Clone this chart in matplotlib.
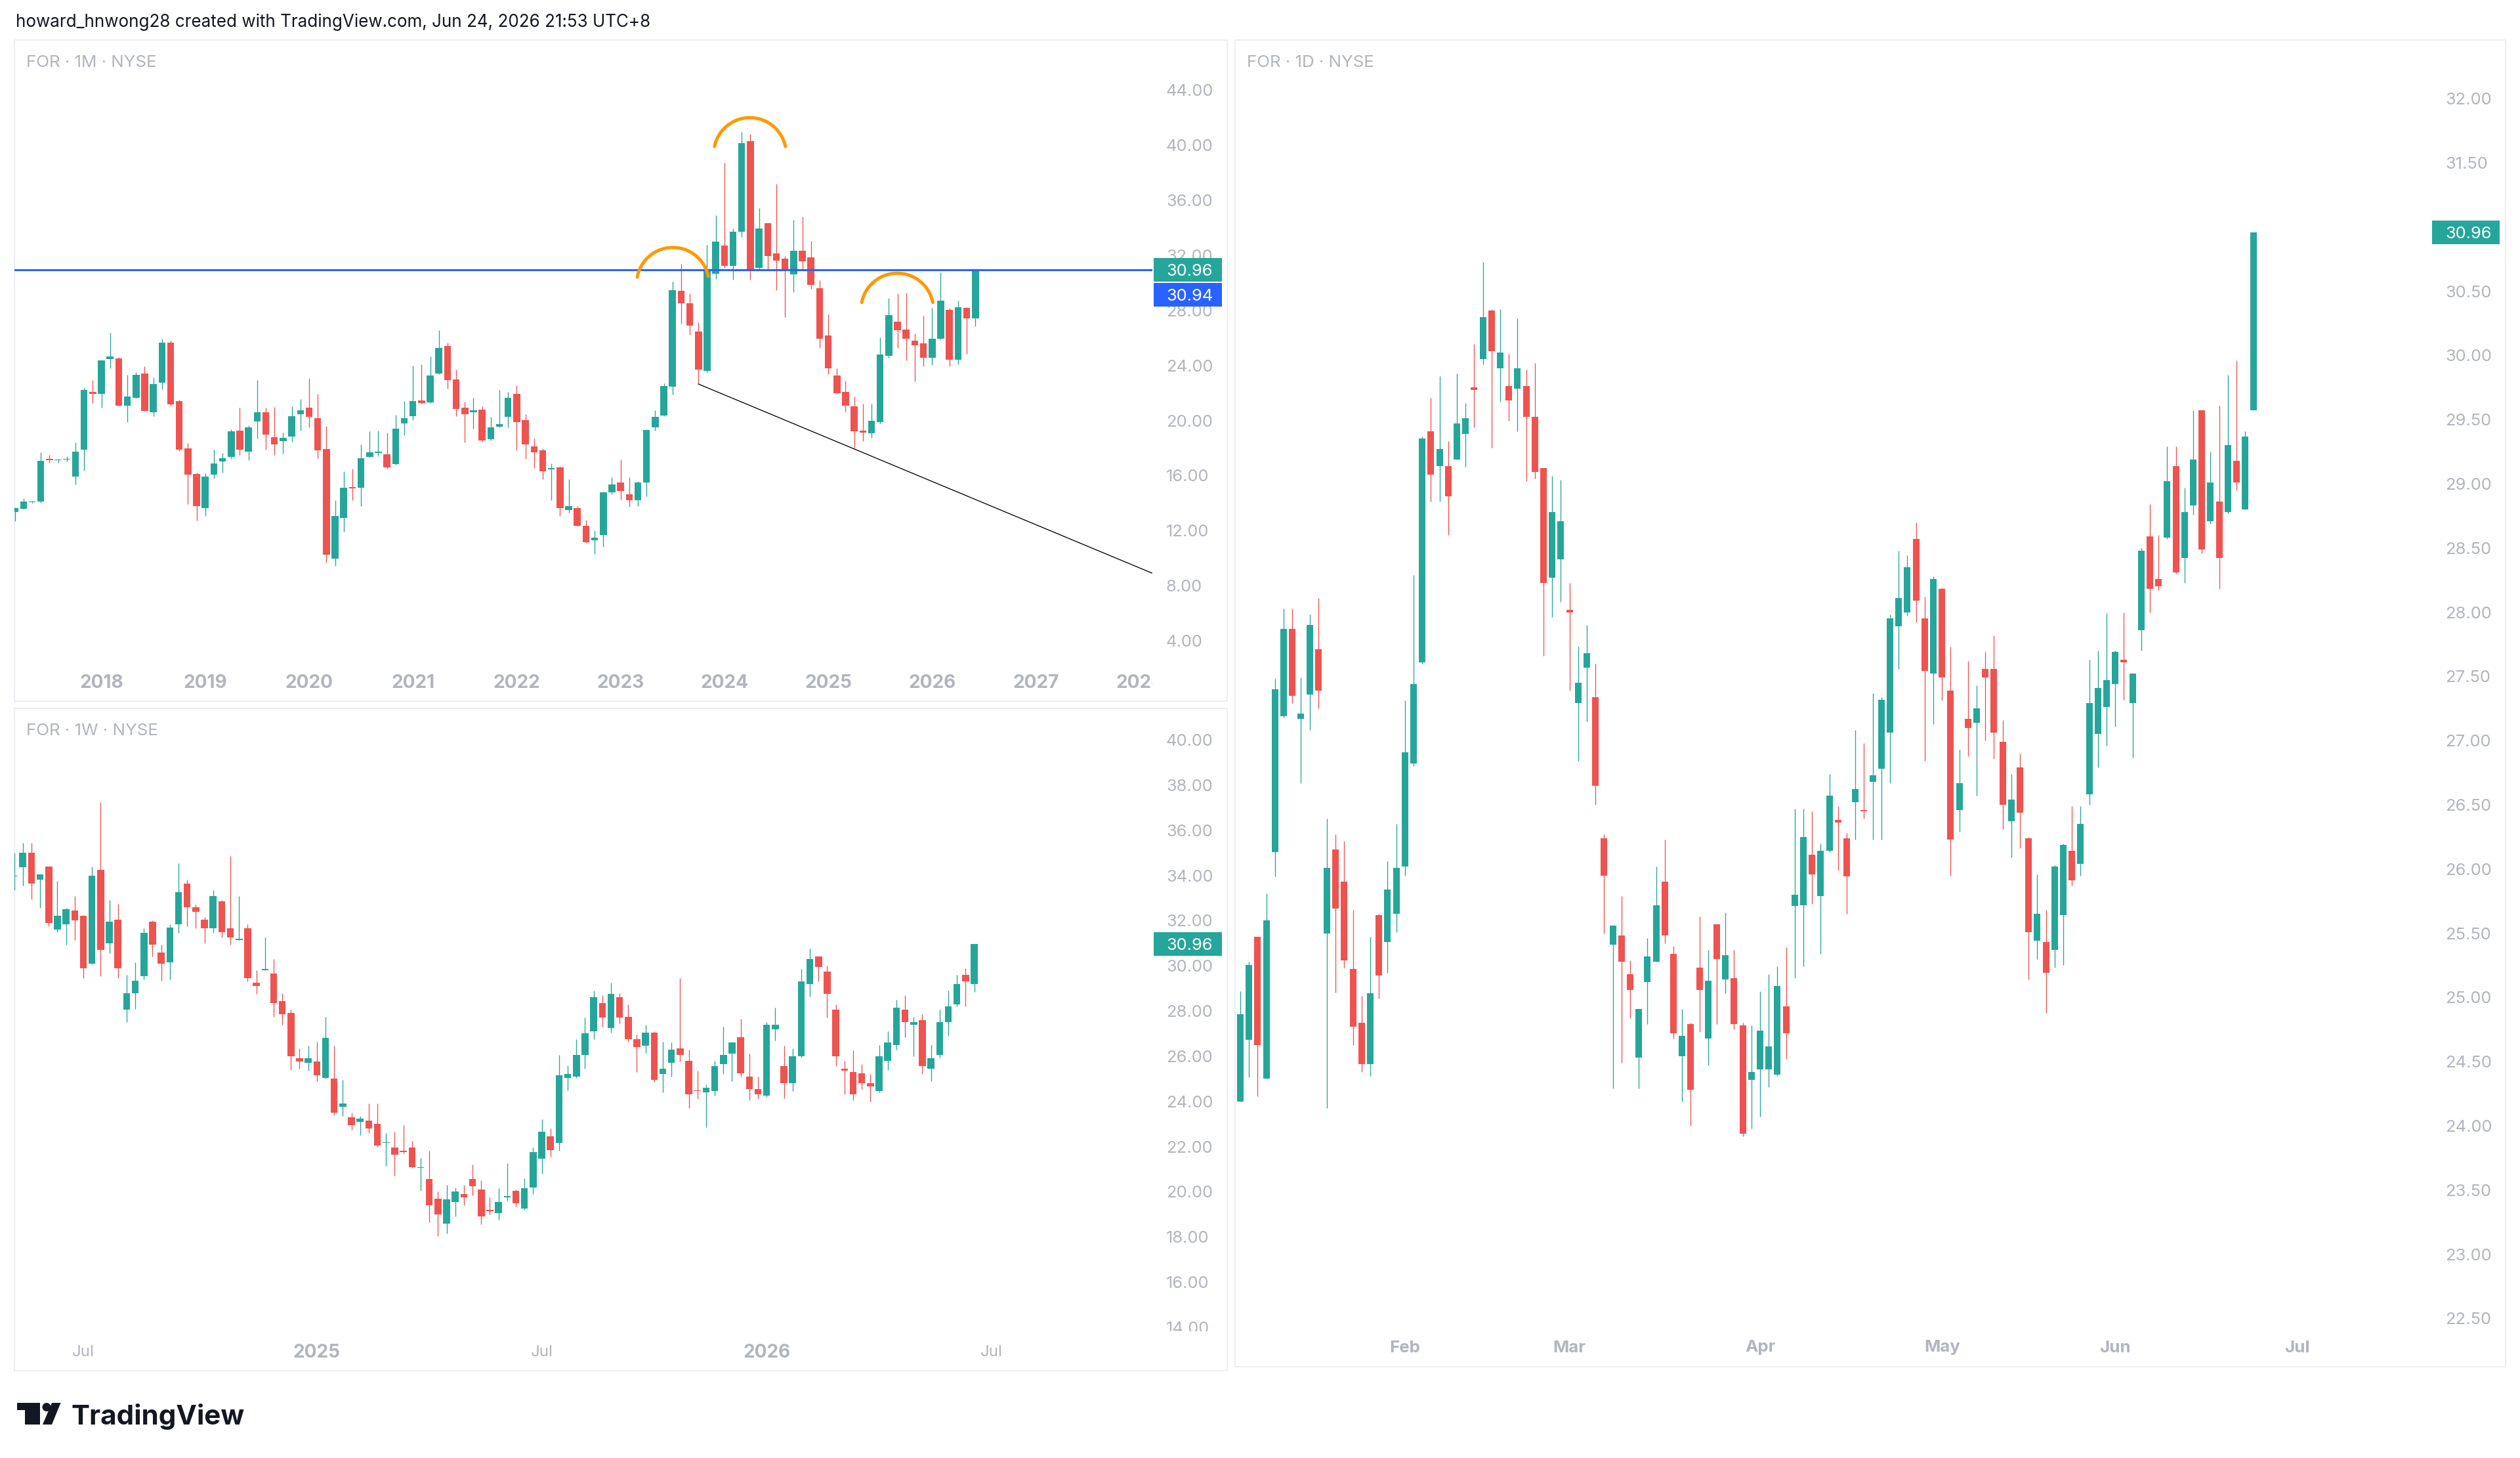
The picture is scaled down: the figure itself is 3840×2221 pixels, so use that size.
import numpy as np
import pandas as pd
import matplotlib
matplotlib.use("Agg")
import matplotlib.pyplot as plt
from matplotlib.patches import Rectangle, Polygon, Circle

# ---------------- DATA ----------------
HEADER = "howard_hnwong28 created with TradingView.com, Jun 24, 2026 21:53 UTC+8"
TITLES = ["FOR \u00b7 1M \u00b7 NYSE", "FOR \u00b7 1W \u00b7 NYSE", "FOR \u00b7 1D \u00b7 NYSE"]
LAST_PRICE = 30.96
HLINE_PRICE = 30.94

# Monthly bars, Mar 2017 .. Jun 2026
m_first = "2017-03"
m_open = [13.35, 13.6, 14.05, 14.1, 17.2, 17.1, 17.15, 15.95, 17.9, 22.1,
          21.95, 24.45, 24.5, 21.1, 21.65, 23.4, 20.6, 22.75, 25.65, 21.4, 18.0, 16.1,
          13.65, 16.05, 17.0, 17.35, 19.25, 17.75, 19.95, 20.6, 18.8, 18.5, 18.85, 20.45,
          20.95, 20.15, 17.95, 9.95, 12.9, 15.15, 15.1, 17.35, 17.65, 17.55, 16.85, 19.8,
          20.3, 21.45, 21.3, 23.4, 25.4, 23.0, 20.95, 20.6, 20.8, 18.65, 19.55, 20.25,
          21.95, 20.05, 18.1, 17.85, 16.45, 16.6, 13.5, 13.65, 12.35, 11.3, 11.7, 14.8,
          15.5, 14.65, 14.2, 15.5, 19.5, 20.35, 22.45, 29.4, 28.5, 26.45, 23.6, 30.65,
          32.7, 31.25, 33.7, 40.3, 31.1, 34.35, 32.15, 31.75, 30.6, 32.35, 31.85, 29.6,
          26.2, 23.25, 22.1, 21.05, 19.25, 19.05, 19.9, 24.7, 27.2, 26.6, 25.8, 25.6,
          24.55, 25.95, 28.05, 24.4, 28.2, 27.4]
m_high = [13.7, 14.35, 14.15, 17.7, 17.5, 17.2, 17.4, 18.4, 22.35, 22.95,
          24.35, 26.35, 24.6, 23.3, 23.5, 23.95, 23.15, 25.95, 25.8, 21.5, 18.35, 16.2,
          16.15, 17.9, 17.65, 19.35, 20.95, 19.65, 22.95, 20.95, 21.0, 19.1, 21.05, 21.55,
          23.1, 21.95, 19.6, 14.2, 16.3, 16.5, 18.25, 19.2, 19.25, 19.1, 20.4, 21.4,
          24.0, 24.1, 24.65, 26.55, 25.65, 23.7, 21.35, 21.65, 21.05, 20.25, 22.2, 22.1,
          22.55, 20.45, 18.7, 18.0, 16.9, 16.7, 15.75, 13.8, 12.8, 12.0, 14.85, 15.9,
          17.15, 15.9, 15.6, 19.35, 20.75, 22.7, 30.1, 31.4, 29.25, 27.15, 32.75, 34.9,
          38.7, 33.95, 40.95, 40.8, 35.45, 34.4, 37.2, 31.95, 34.55, 34.8, 33.05, 30.2,
          27.7, 23.8, 22.9, 21.75, 21.2, 21.2, 26.05, 28.9, 29.25, 29.3, 26.3, 27.6,
          28.2, 30.75, 28.2, 28.7, 28.25, 30.96]
m_low = [12.7, 13.55, 14.0, 14.0, 16.95, 16.95, 17.0, 15.35, 16.35, 21.25,
         20.95, 23.8, 21.1, 19.9, 21.6, 20.7, 20.3, 22.25, 21.1, 17.8, 13.9, 12.75,
         13.05, 15.8, 16.2, 17.2, 17.5, 17.1, 18.7, 17.9, 17.5, 17.6, 18.45, 19.25,
         19.5, 17.25, 9.7, 9.45, 11.9, 14.2, 13.8, 17.3, 17.4, 16.5, 16.8, 18.95,
         20.05, 21.2, 21.25, 23.35, 22.3, 20.3, 18.4, 19.4, 18.45, 18.55, 19.5, 19.5,
         17.85, 17.2, 16.55, 15.75, 14.2, 13.05, 13.3, 12.3, 11.1, 10.3, 10.8, 14.65,
         14.25, 13.75, 13.8, 14.5, 19.25, 20.3, 21.9, 27.05, 26.25, 22.65, 23.5, 30.3,
         31.1, 30.25, 33.35, 30.25, 30.95, 30.95, 29.45, 27.5, 29.35, 30.9, 29.55, 25.25,
         23.35, 21.95, 20.65, 18.0, 18.5, 18.75, 19.8, 24.55, 25.25, 24.35, 22.85, 23.95,
         24.05, 25.9, 23.95, 24.1, 24.85, 26.85]
m_close = [13.65, 14.1, 14.1, 17.05, 17.1, 17.15, 17.2, 17.75, 22.2, 21.95,
           24.35, 24.65, 21.1, 21.75, 23.3, 20.7, 22.65, 25.65, 21.15, 17.9, 16.05, 13.8,
           15.95, 16.9, 17.25, 19.2, 17.9, 19.5, 20.6, 19.0, 18.25, 18.75, 20.3, 20.75,
           20.25, 17.85, 10.25, 13.05, 15.1, 15.05, 17.25, 17.7, 17.7, 16.6, 19.4, 20.15,
           21.4, 21.25, 23.25, 25.25, 22.95, 20.85, 20.45, 20.75, 18.55, 19.5, 19.75, 21.65,
           19.9, 18.25, 17.7, 16.3, 16.5, 13.65, 13.8, 12.35, 11.15, 11.5, 14.8, 15.35,
           14.9, 14.2, 15.5, 19.3, 20.25, 22.5, 29.45, 28.5, 26.9, 23.7, 31.0, 33.0,
           31.25, 33.7, 40.15, 30.95, 33.95, 31.95, 31.6, 30.85, 32.35, 31.55, 29.85, 25.95,
           23.8, 22.0, 21.1, 19.2, 19.1, 20.0, 24.8, 27.65, 26.55, 25.95, 25.45, 24.55,
           25.95, 28.7, 24.4, 28.25, 27.4, 30.96]
m_tick_years = list(range(2018, 2029))
m_price_ticks = [4, 8, 12, 16, 20, 24, 28, 32, 36, 40, 44]
# drawings on the monthly chart (x = months since Jan 2017, y = price)
m_arcs = [[(73.93, 30.42), (77.92, 32.57), (82.14, 30.48)],
          [(82.85, 39.91), (86.97, 42.00), (91.05, 39.91)],
          [(99.87, 28.58), (104.04, 30.70), (108.08, 28.58)]]
m_trend = [(81.0, 22.65), (133.4, 8.92)]

# Weekly bars, week of 2024-05-06 .. week of 2026-06-22
w_first = "2024-05-06"
w_open = [33.95, 34.35, 35.0, 33.8, 34.4, 31.6, 31.85, 32.45,
          32.2, 30.1, 34.25, 31.0, 32.05, 28.05, 28.8, 29.55, 31.95, 30.6,
          30.15, 31.85, 33.65, 32.6, 32.05, 31.65, 32.85, 31.65, 31.15, 31.65,
          29.25, 29.8, 29.65, 28.45, 27.9, 25.9, 25.7, 25.75, 25.05, 25.0,
          23.75, 23.3, 23.1, 23.15, 23.0, 22.15, 21.95, 21.8, 21.95, 21.05,
          20.55, 19.7, 18.6, 19.55, 19.9, 20.55, 20.1, 19.2, 19.05, 19.75,
          20.05, 19.25, 20.2, 21.45, 22.45, 22.15, 25.05, 25.1, 26.05, 27.1,
          28.35, 27.25, 28.6, 27.75, 26.75, 26.45, 27.05, 25.2, 25.7, 26.35,
          25.8, 24.5, 24.4, 24.45, 25.65, 26.1, 26.85, 25.1, 24.55, 24.25,
          27.2, 25.55, 24.8, 26.0, 29.2, 30.4, 29.75, 28.05, 25.45, 25.3,
          25.25, 24.8, 24.45, 25.8, 26.5, 28.05, 27.4, 27.6, 25.45, 26.05,
          27.5, 28.3, 29.6, 29.2]
w_high = [35.0, 35.45, 35.45, 34.05, 34.4, 33.75, 32.55, 33.1,
          32.25, 34.4, 37.25, 32.9, 32.75, 29.6, 30.15, 31.65, 32.0, 30.95,
          31.85, 34.55, 33.8, 32.7, 32.15, 33.35, 32.9, 34.85, 33.1, 31.85,
          29.8, 31.25, 30.3, 28.8, 28.05, 26.35, 26.45, 26.65, 27.75, 26.45,
          24.95, 23.5, 23.35, 23.9, 23.9, 22.6, 22.65, 22.95, 22.25, 21.5,
          21.8, 20.0, 20.3, 20.2, 20.3, 21.2, 20.5, 19.75, 20.15, 21.25,
          20.1, 20.6, 21.95, 23.2, 22.8, 26.05, 25.6, 26.75, 27.7, 28.9,
          28.7, 29.25, 28.8, 28.3, 26.95, 27.4, 27.1, 26.65, 26.6, 29.45,
          26.3, 25.35, 24.75, 25.8, 27.3, 26.65, 27.65, 26.1, 25.1, 27.5,
          28.15, 26.45, 26.35, 29.85, 30.75, 30.4, 30.0, 28.3, 25.8, 26.25,
          25.65, 25.2, 26.5, 27.1, 28.5, 28.7, 27.75, 27.85, 26.5, 28.05,
          28.9, 29.6, 29.9, 30.96]
w_low = [33.35, 33.55, 32.95, 32.55, 31.75, 31.5, 30.95, 31.15,
         29.45, 30.05, 29.55, 30.55, 29.45, 27.5, 28.1, 29.4, 30.4, 29.35,
         29.4, 31.45, 31.75, 31.65, 31.0, 31.45, 31.25, 30.95, 31.15, 29.3,
         28.75, 29.8, 27.75, 27.4, 25.4, 25.45, 25.35, 24.9, 25.0, 23.4,
         23.35, 22.75, 22.5, 22.6, 22.0, 21.15, 20.7, 21.7, 21.05, 20.05,
         18.65, 18.05, 18.15, 18.9, 19.4, 19.85, 18.55, 19.0, 18.75, 19.6,
         19.35, 19.2, 19.9, 20.8, 21.55, 21.8, 24.5, 25.05, 25.45, 26.75,
         27.3, 27.05, 27.45, 26.65, 25.3, 26.15, 24.85, 24.4, 25.1, 25.75,
         23.7, 24.1, 22.85, 24.25, 25.2, 24.9, 25.1, 24.05, 24.1, 24.2,
         26.7, 24.15, 24.45, 25.95, 28.65, 29.3, 27.7, 25.55, 24.3, 24.05,
         24.55, 24.0, 24.4, 25.4, 26.3, 26.85, 26.0, 25.2, 24.9, 25.95,
         26.9, 28.2, 28.2, 28.85]
w_close = [34.0, 35.0, 33.65, 34.05, 31.9, 32.2, 32.5, 32.0,
           29.9, 34.0, 30.7, 31.95, 29.9, 28.8, 29.35, 31.45, 30.95, 30.1,
           31.7, 33.25, 32.6, 32.4, 31.65, 33.1, 31.5, 31.25, 31.2, 29.45,
           29.1, 29.85, 28.35, 27.85, 26.0, 25.75, 25.9, 25.15, 26.8, 23.5,
           23.9, 22.95, 23.25, 22.8, 22.05, 22.2, 21.65, 21.75, 21.1, 21.1,
           19.4, 19.0, 19.65, 20.0, 19.75, 20.25, 18.9, 19.15, 19.55, 19.8,
           19.5, 20.15, 21.75, 22.65, 21.85, 25.15, 25.2, 26.05, 27.0, 28.6,
           27.7, 28.75, 27.7, 26.75, 26.4, 27.05, 24.95, 25.45, 26.3, 26.05,
           24.3, 24.45, 24.6, 25.55, 26.05, 26.6, 25.25, 24.55, 24.3, 27.4,
           27.4, 24.8, 26.0, 29.3, 30.3, 29.95, 28.75, 26.0, 25.35, 24.3,
           24.8, 24.65, 26.0, 26.6, 28.15, 27.5, 27.5, 25.55, 25.9, 27.5,
           28.2, 29.2, 29.3, 30.96]
w_tick_dates = ["2024-07-01", "2025-01-06", "2025-07-07", "2026-01-05", "2026-07-06"]
w_tick_text = ["Jul", "2025", "Jul", "2026", "Jul"]
w_tick_bold = [False, True, False, True, False]
w_price_ticks = [14, 16, 18, 20, 22, 24, 26, 28, 30, 32, 34, 36, 38, 40]

# Daily bars, 2026-01-05 .. 2026-06-24 (NYSE sessions)
d_first, d_last = "2026-01-05", "2026-06-24"
d_holidays = ["2026-01-19", "2026-02-16", "2026-04-03", "2026-05-25", "2026-06-19", "2026-07-03"]
d_open = [24.19, 24.67, 25.47, 24.37, 26.13, 27.19, 27.87, 27.17, 27.36, 27.71,
          25.5, 26.15, 25.9, 25.22, 24.8, 24.48, 25.64, 25.43, 25.65, 26.02,
          26.82, 27.61, 29.41, 29.14, 29.14, 29.19, 29.39, 29.75, 29.97, 30.35,
          29.9, 29.76, 29.74, 29.76, 29.52, 29.12, 28.27, 28.41, 28.02, 27.29,
          27.57, 27.34, 26.24, 25.41, 25.48, 25.18, 24.53, 25.12, 25.28, 25.9,
          25.34, 24.54, 24.79, 25.23, 24.68, 25.57, 25.14, 25.15, 24.78, 24.36,
          24.44, 24.44, 24.4, 24.93, 25.71, 25.72, 26.11, 25.79, 26.14, 26.38,
          26.24, 26.52, 26.46, 26.68, 26.78, 27.06, 27.89, 28.0, 28.57, 27.95,
          27.52, 28.18, 27.39, 26.46, 27.17, 27.14, 27.56, 27.56, 26.99, 26.37,
          26.79, 26.24, 25.44, 25.43, 25.37, 25.64, 26.14, 26.04, 26.58, 27.05,
          27.26, 27.44, 27.63, 27.29, 27.86, 28.59, 28.26, 28.58, 29.14, 28.42,
          28.83, 29.57, 28.71, 28.86, 28.78, 29.18, 28.8, 29.57]
d_high = [25.05, 25.28, 25.47, 25.81, 27.48, 28.03, 28.03, 27.49, 27.98, 28.11,
          26.39, 26.27, 26.22, 25.68, 25.01, 25.47, 25.65, 26.06, 26.35, 27.31,
          28.29, 29.37, 29.67, 29.84, 29.33, 29.86, 29.63, 30.09, 30.73, 30.36,
          30.36, 30.01, 30.29, 29.89, 29.94, 29.12, 29.06, 29.03, 28.23, 27.73,
          27.9, 27.6, 26.27, 25.56, 25.79, 25.29, 24.91, 25.46, 26.02, 26.23,
          25.4, 24.91, 24.8, 25.63, 25.37, 25.57, 25.66, 25.37, 24.8, 24.78,
          25.05, 25.18, 25.24, 25.39, 26.47, 26.47, 26.45, 26.2, 26.74, 26.49,
          26.28, 27.08, 26.98, 27.37, 27.34, 27.98, 28.48, 28.44, 28.7, 28.12,
          28.28, 28.19, 27.73, 26.93, 27.62, 27.43, 27.69, 27.82, 27.16, 26.74,
          26.9, 26.25, 25.96, 25.68, 26.03, 26.2, 26.49, 26.49, 27.63, 27.7,
          27.99, 27.7, 28.0, 27.52, 28.5, 28.84, 28.6, 29.29, 29.29, 28.97,
          29.57, 29.57, 29.25, 29.61, 29.85, 29.96, 29.41, 30.96]
d_low = [24.19, 24.38, 24.23, 24.37, 25.94, 27.18, 27.29, 26.67, 27.08, 27.25,
         24.14, 25.04, 25.23, 24.63, 24.42, 24.39, 24.99, 25.19, 25.51, 25.95,
         26.8, 27.6, 28.86, 28.86, 28.6, 29.19, 29.13, 29.44, 29.93, 29.28,
         29.64, 29.49, 29.41, 29.02, 29.04, 27.66, 27.96, 28.08, 27.39, 26.84,
         27.15, 26.5, 25.5, 24.29, 24.49, 24.84, 24.29, 24.79, 25.28, 25.42,
         24.68, 24.19, 24.0, 24.73, 24.47, 24.79, 25.03, 24.75, 23.92, 23.98,
         24.07, 24.3, 24.39, 24.52, 25.15, 25.24, 25.73, 25.34, 26.13, 25.99,
         25.65, 26.23, 26.39, 26.23, 26.23, 26.67, 27.56, 27.97, 27.92, 26.84,
         27.13, 27.31, 25.95, 26.29, 26.88, 26.57, 27.0, 26.86, 26.31, 26.09,
         26.16, 25.14, 25.3, 24.88, 25.23, 25.25, 25.87, 25.95, 26.5, 26.79,
         26.96, 27.11, 27.32, 26.87, 27.7, 28.0, 28.17, 28.57, 28.3, 28.23,
         28.76, 28.46, 28.69, 28.18, 28.77, 28.95, 28.8, 29.57]
d_close = [24.87, 25.25, 24.63, 25.6, 27.4, 27.87, 27.35, 27.21, 27.9, 27.39,
           26.01, 25.69, 25.29, 24.77, 24.48, 25.03, 25.17, 25.84, 26.01, 26.91,
           27.44, 29.35, 29.07, 29.27, 28.9, 29.47, 29.51, 29.73, 30.3, 30.03,
           30.02, 29.65, 29.9, 29.52, 29.09, 28.23, 28.78, 28.71, 28.0, 27.45,
           27.68, 26.65, 25.95, 25.56, 25.28, 25.06, 24.91, 25.32, 25.72, 25.48,
           24.72, 24.7, 24.28, 25.06, 25.13, 25.3, 25.33, 24.79, 23.94, 24.42,
           24.74, 24.62, 25.09, 24.72, 25.8, 26.25, 25.96, 26.14, 26.57, 26.36,
           25.94, 26.62, 26.45, 26.73, 27.32, 27.95, 28.11, 28.35, 28.09, 27.54,
           28.26, 27.49, 26.23, 26.67, 27.1, 27.25, 27.49, 27.06, 26.5, 26.54,
           26.44, 25.51, 25.65, 25.19, 26.02, 26.19, 25.91, 26.35, 27.29, 27.41,
           27.47, 27.69, 27.61, 27.52, 28.48, 28.18, 28.2, 29.02, 28.31, 28.78,
           29.19, 28.49, 29.01, 28.42, 29.3, 29.01, 29.37, 30.96]
d_tick_months = [2, 3, 4, 5, 6, 7]
d_price_ticks = [22.5, 23.0, 23.5, 24.0, 24.5, 25.0, 25.5, 26.0, 26.5, 27.0, 27.5,
                 28.0, 28.5, 29.0, 29.5, 30.0, 30.5, 31.0, 31.5, 32.0]

# ---------------- STYLE ----------------
UP, DOWN = "#26a69a", "#ef5350"
BLUE, ORANGE = "#2962ff", "#ff9800"
LABEL = "#b2b5be"
BORDER = "#eceef2"
INK = "#131722"
plt.rcParams["font.family"] = ["Inter", "DejaVu Sans"]

W, H = 3840, 2221
fig = plt.figure(figsize=(W / 100, H / 100), dpi=100)
fig.patch.set_facecolor("white")
renderer = fig.canvas.get_renderer()


def box(x0, y0, x1, y1):
    return [x0 / W, 1 - y1 / H, (x1 - x0) / W, (y1 - y0) / H]


def fit(s, target, weight="normal"):
    t = fig.text(0, 0, s, fontsize=20, fontweight=weight)
    w = t.get_window_extent(renderer).width
    t.remove()
    return 20 * target / w


FS_PRICE = fit("40.00", 72)
FS_YEAR = fit("2018", 67, "bold")
FS_MON = fit("Jul", 34)
FS_MONB = fit("Jul", 38.5, "bold")
FS_TITLE = fit(TITLES[0], 200)
FS_HEAD = fit(HEADER, 967)
FS_LOGO = fit("TradingView", 265, "bold")

# background pixel axes (borders, header, logo)
bg = fig.add_axes([0, 0, 1, 1])
bg.set_xlim(0, W)
bg.set_ylim(H, 0)
bg.axis("off")

PANELS = {
    "m": dict(L=22, R=1756, T=61, B=1010, PB=1068, PR=1870, xlim=(1.95, 133.46), ylim=(2.383, 47.639),
              tx=1777, tag=(1758, 1862), ty=1040),
    "w": dict(L=22, R=1756, T=1079, B=2028, PB=2088, PR=1870, xlim=(0.033, 131.6), ylim=(13.823, 41.395),
              tx=1777, tag=(1758, 1862), ty=2060),
    "d": dict(L=1882, R=3705, T=61, B=2024, PB=2082, PR=3818, xlim=(-0.606, 137.5), ylim=(22.42, 32.4555),
              tx=3726, tag=(3706, 3809), ty=2053),
}


def setup(p, title):
    ax = fig.add_axes(box(p["L"], p["T"], p["R"], p["B"]))
    ax.set_xlim(*p["xlim"]); ax.set_ylim(*p["ylim"]); ax.axis("off")
    tax = fig.add_axes(box(p["L"], p["B"], p["R"], p["PB"]))
    tax.set_xlim(*p["xlim"]); tax.set_ylim(p["PB"], p["B"]); tax.axis("off")
    pax = fig.add_axes(box(p["R"], p["T"], p["PR"], p["B"]))
    pax.set_xlim(p["R"], p["PR"]); pax.set_ylim(*p["ylim"]); pax.axis("off")
    bg.add_patch(Rectangle((p["L"], p["T"]), p["PR"] - p["L"], p["PB"] - p["T"],
                           fill=False, ec=BORDER, lw=1.4))
    bg.text(p["L"] + 18, p["T"] + 35, title, color=LABEL, fontsize=FS_TITLE, ha="left", va="center")
    p["ppd"] = (p["B"] - p["T"]) / (p["ylim"][1] - p["ylim"][0])
    return ax, tax, pax


def candles(ax, x, o, h, l, c, width, ppd):
    o, h, l, c = map(np.asarray, (o, h, l, c))
    col = np.where(c >= o, UP, DOWN)
    ax.vlines(x, l, h, colors=col, linewidth=0.95, zorder=2)
    bottom = np.minimum(o, c)
    height = np.maximum(np.abs(c - o), 1.6 / ppd)
    ax.bar(x, height, width, bottom, color=col, linewidth=0, zorder=3)


def price_labels(pax, p, ticks, hide_near=None):
    for t in ticks:
        if hide_near is not None and abs(t - hide_near) * p["ppd"] < 18:
            continue  # label sits under the last-price tag
        pax.text(p["tx"], t, f"{t:.2f}", color=LABEL, fontsize=FS_PRICE, ha="left", va="center_baseline",
                 clip_on=True)


def tag(pax, p, price, text, color, dy_px=0.0):
    hh = 18.0 / p["ppd"]
    yc = price - dy_px / p["ppd"]
    x0, x1 = p["tag"]
    pax.add_patch(Rectangle((x0, yc - hh), x1 - x0, 2 * hh, fc=color, ec="none", zorder=5, clip_on=False))
    pax.text(p["tx"], yc, text, color="white", fontsize=FS_PRICE, ha="left", va="center_baseline", zorder=6,
             clip_on=False)


def arc3(ax, pts, **kw):
    P = ax.transData.transform(np.array(pts))
    (x1, y1), (x2, y2), (x3, y3) = P
    d = 2 * (x1 * (y2 - y3) + x2 * (y3 - y1) + x3 * (y1 - y2))
    ux = ((x1**2 + y1**2) * (y2 - y3) + (x2**2 + y2**2) * (y3 - y1) + (x3**2 + y3**2) * (y1 - y2)) / d
    uy = ((x1**2 + y1**2) * (x3 - x2) + (x2**2 + y2**2) * (x1 - x3) + (x3**2 + y3**2) * (x2 - x1)) / d
    r = np.hypot(x1 - ux, y1 - uy)
    a1 = np.arctan2(y1 - uy, x1 - ux)
    a3 = np.arctan2(y3 - uy, x3 - ux)
    t = np.linspace(a1, a3, 150)
    D = np.column_stack([ux + r * np.cos(t), uy + r * np.sin(t)])
    data = ax.transData.inverted().transform(D)
    ax.plot(data[:, 0], data[:, 1], **kw)


# ---------------- MONTHLY ----------------
pm = PANELS["m"]
axm, taxm, paxm = setup(pm, TITLES[0])
months = pd.period_range(m_first, periods=len(m_open), freq="M")
assert len(months) == len(m_high) == len(m_low) == len(m_close)
mx = (months.year - 2017) * 12 + months.month - 1
candles(axm, mx, m_open, m_high, m_low, m_close, 0.8, pm["ppd"])
axm.axhline(HLINE_PRICE, color=BLUE, lw=2.2, zorder=4)
for a in m_arcs:
    arc3(axm, a, color=ORANGE, lw=3.6, solid_capstyle="round", zorder=5)
axm.plot([m_trend[0][0], m_trend[1][0]], [m_trend[0][1], m_trend[1][1]], color="#000000", lw=0.95, zorder=4)
for yv in m_tick_years:
    taxm.text((yv - 2017) * 12, pm["ty"], str(yv), color=LABEL, fontsize=FS_YEAR, fontweight="bold",
              ha="center", va="center", clip_on=True)
price_labels(paxm, pm, m_price_ticks)
tag(paxm, pm, LAST_PRICE, f"{LAST_PRICE:.2f}", UP)
tag(paxm, pm, HLINE_PRICE, f"{HLINE_PRICE:.2f}", BLUE, dy_px=37.5)

# ---------------- WEEKLY ----------------
pw = PANELS["w"]
axw, taxw, paxw = setup(pw, TITLES[1])
assert len(w_open) == len(w_high) == len(w_low) == len(w_close)
w0 = pd.Timestamp(w_first)
wx = np.arange(len(w_open))
candles(axw, wx, w_open, w_high, w_low, w_close, 0.8, pw["ppd"])
for ds, txt, b in zip(w_tick_dates, w_tick_text, w_tick_bold):
    xpos = (pd.Timestamp(ds) - w0).days / 7
    taxw.text(xpos, pw["ty"], txt, color=LABEL, fontsize=FS_YEAR if b else FS_MON,
              fontweight="bold" if b else "normal", ha="center", va="center", clip_on=True)
price_labels(paxw, pw, w_price_ticks)
tag(paxw, pw, LAST_PRICE, f"{LAST_PRICE:.2f}", UP)

# ---------------- DAILY ----------------
pdl = PANELS["d"]
axd, taxd, paxd = setup(pdl, TITLES[2])
d_dates = pd.bdate_range(d_first, d_last, freq="C", holidays=d_holidays)
assert len(d_dates) == len(d_open) == len(d_high) == len(d_low) == len(d_close)
dx = np.arange(len(d_dates))
candles(axd, dx, d_open, d_high, d_low, d_close, 0.76, pdl["ppd"])
d_cal = pd.bdate_range(d_first, "2026-07-31", freq="C", holidays=d_holidays)
for mth in d_tick_months:
    idx = int(np.argmax(d_cal.month == mth))
    taxd.text(idx, pdl["ty"], d_cal[idx].strftime("%b"), color=LABEL, fontsize=FS_MONB,
              fontweight="bold", ha="center", va="center", clip_on=True)
price_labels(paxd, pdl, d_price_ticks, hide_near=LAST_PRICE)
tag(paxd, pdl, LAST_PRICE, f"{LAST_PRICE:.2f}", UP)

# ---------------- HEADER / LOGO ----------------
bg.text(24, 34, HEADER, color=INK, fontsize=FS_HEAD, ha="left", va="center")
bg.add_patch(Polygon([(26, 2137), (61, 2137), (61, 2170), (38, 2170), (38, 2148), (26, 2148)],
                     closed=True, fc=INK, ec="none"))
bg.add_patch(Circle((71, 2143.5), 6.5, fc=INK, ec="none"))
bg.add_patch(Polygon([(79, 2137), (92.5, 2137), (79, 2170), (65, 2170)], closed=True, fc=INK, ec="none"))
bg.text(108, 2170, "TradingView", color=INK, fontsize=FS_LOGO, fontweight="bold", ha="left", va="baseline")

fig.savefig("out.png", dpi=100, facecolor="white")
